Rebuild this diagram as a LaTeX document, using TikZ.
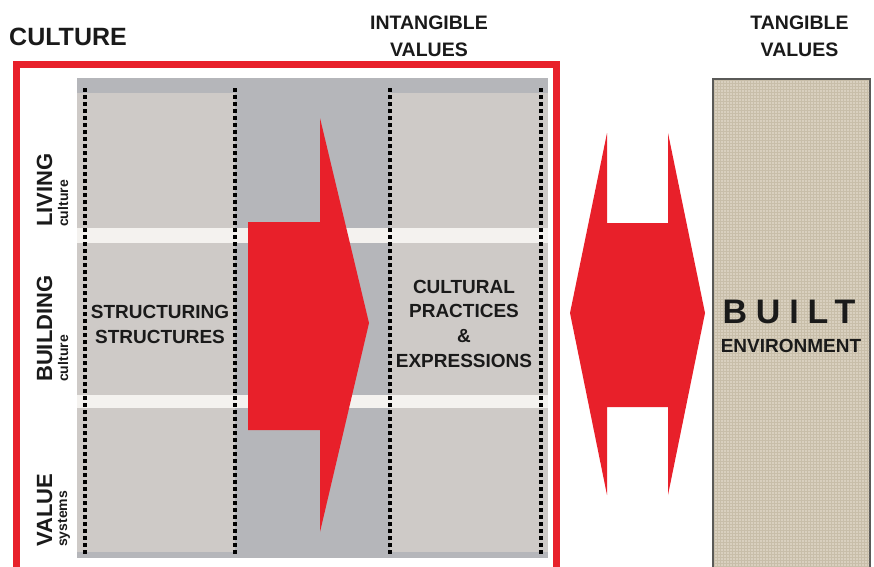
\documentclass[tikz,border=0pt]{standalone}
\usepackage{fontspec}
\setmainfont{Liberation Sans}
\usepackage{tikz}
\usetikzlibrary{calc}
\usetikzlibrary{patterns}
\definecolor{vivred}{HTML}{E8202A}
\definecolor{midgray}{HTML}{B5B6BA}
\definecolor{panelgray}{HTML}{CECAC7}
\definecolor{bandwhite}{HTML}{F4F2EF}
\definecolor{linen}{HTML}{D9D0BF}
\definecolor{linendark}{HTML}{C8BEA9}
\definecolor{boxedge}{HTML}{5A5A58}
\definecolor{ink}{HTML}{1A1A1A}

\begin{document}
\begin{tikzpicture}[x=1pt, y=-1pt, line join=miter,
  title/.style={font=\fontsize{25}{28}\selectfont\bfseries, inner sep=0pt, text=ink},
  head/.style={font=\fontsize{19.5}{27}\selectfont\bfseries, align=center, inner sep=0pt, text=ink},
  rowlab/.style={font=\fontsize{22}{24}\selectfont\bfseries, rotate=90, anchor=base west, inner sep=0pt, text=ink},
  rowsub/.style={font=\fontsize{14}{15}\selectfont\bfseries, rotate=90, anchor=base west, inner sep=0pt, text=ink},
  celltxt/.style={font=\fontsize{19}{24.7}\selectfont\bfseries, align=center, inner sep=0pt, text=ink},
  dotline/.style={draw=black, line width=3.5pt, line cap=butt, dash pattern=on 3.5pt off 3.5pt},
]
  \useasboundingbox (0,0) rectangle (874,566);
  %--- Fonds
    \fill[midgray] (77,78) rectangle (548,558);
    \fill[panelgray] (77,93) rectangle (235,552);
    \fill[panelgray] (390,93) rectangle (548,552);
    \fill[bandwhite] (77,228) rectangle (548,243);
    \fill[bandwhite] (77,395) rectangle (548,408);
    \draw[dotline] (85,88) -- (85,556);
    \draw[dotline] (235,88) -- (235,556);
    \draw[dotline] (390,88) -- (390,556);
    \draw[dotline] (541,88) -- (541,556);
  %--- Cadre
    \draw[vivred, line width=7pt] (16,575) -- (16,64.5) -- (556,64.5) -- (556,575);
    \draw[boxedge, line width=1.2pt, fill=linen] (713,79) rectangle (870,580);
    \fill[pattern=grid, pattern color=linendark] (714,80) rectangle (869,580);
  %--- Flèches
    \fill[vivred] (248,222) -- (320,222) -- (320,118) -- (369,323) -- (320,532)
      -- (320,430) -- (248,430) -- cycle;
    \fill[vivred] (570,313) -- (607,133) -- (607,223) -- (668,223) -- (668,133)
      -- (705,313) -- (668,495) -- (668,407) -- (607,407) -- (607,495) -- cycle;
  %--- Textes
    \node[title, anchor=base west] (culture) at (9,45) {CULTURE};
    \node[head] (intang) at (429,36.5) {INTANGIBLE\\VALUES};
    \node[head] (tang) at (799.5,36.5) {TANGIBLE\\VALUES};
    \node[rowlab] (living) at (52,227) {LIVING};
    \node[rowsub] (livingsub) at (68,227) {culture};
    \node[rowlab] (building) at (52,382) {BUILDING};
    \node[rowsub] (buildingsub) at (68,382) {culture};
    \node[rowlab] (value) at (52,547) {VALUE};
    \node[rowsub] (valuesub) at (67,547) {systems};
    \node[celltxt] (struct) at (160,324.5) {STRUCTURING\\STRUCTURES};
    \node[celltxt] (practices) at (464,323.5) {CULTURAL\\PRACTICES\\\&\\EXPRESSIONS};
    \node[font=\fontsize{34}{36}\selectfont\bfseries\addfontfeatures{LetterSpace=26}, inner sep=0pt, anchor=base, text=ink] (built) at (789,323) {BUILT};
    \node[font=\fontsize{19}{20}\selectfont\bfseries, inner sep=0pt, anchor=base, text=ink] (environ) at (791,352) {ENVIRONMENT};
  %---
\end{tikzpicture}
\end{document}
